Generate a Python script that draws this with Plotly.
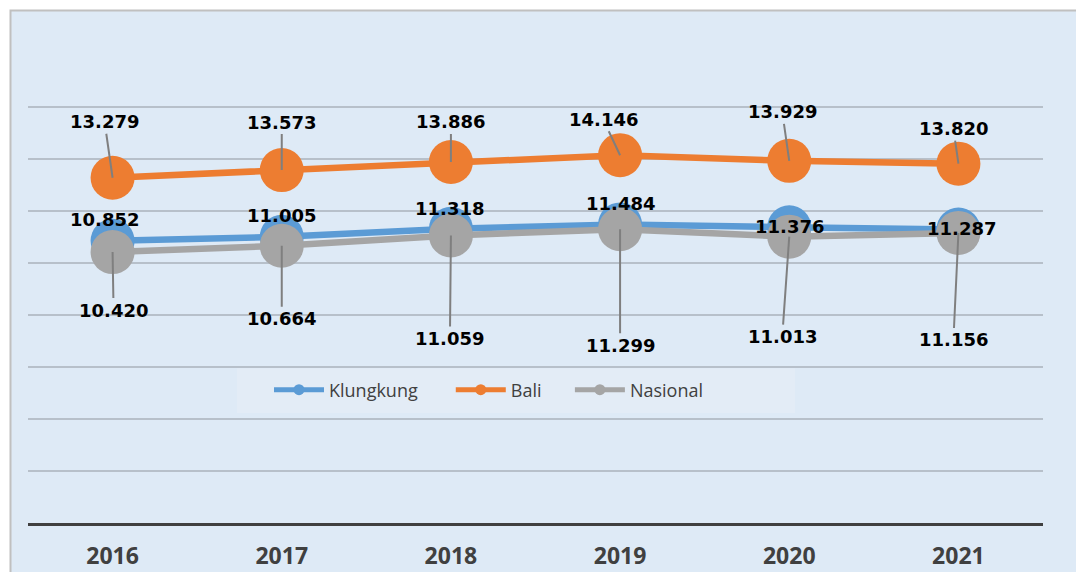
import plotly.graph_objects as go

years = ["2016", "2017", "2018", "2019", "2020", "2021"]
klungkung = [10.852, 11.005, 11.318, 11.484, 11.376, 11.287]
bali = [13.279, 13.573, 13.886, 14.146, 13.929, 13.820]
nasional = [10.420, 10.664, 11.059, 11.299, 11.013, 11.156]

series_names = ["Klungkung", "Bali", "Nasional"]
colors = {"Klungkung": "#5B9BD5", "Bali": "#ED7D31", "Nasional": "#A5A5A5"}

# label offsets (pixels, label centre relative to point)
bali_off = [(-8, -56), (0, -48), (0, -40), (-17, -36), (-7, -49), (-5, -35)]
nas_off = [(1, 58), (0, 73), (-1, 103), (0, 116), (-7, 100), (-5, 107)]
klu_off = [(-8, -21), (0, -21), (-1, -20), (0, -21), (0, -1), (3, -1)]
legend_pad = [6, 5, 0]

xs = list(range(len(years)))

def fmt(v):
    return f"{v:.3f}"

fig = go.Figure()
data = {"Klungkung": klungkung, "Bali": bali, "Nasional": nasional}
for name in series_names:
    fig.add_trace(go.Scatter(
        x=xs, y=data[name], mode="lines+markers", name=name,
        line=dict(color=colors[name], width=6.5),
        marker=dict(size=44, color=colors[name]),
        showlegend=False, cliponaxis=False, hoverinfo="skip"))
for i, name in enumerate(series_names):
    fig.add_trace(go.Scatter(
        x=[None], y=[None], mode="lines+markers",
        name=name + "\u00a0" * legend_pad[i],
        line=dict(color=colors[name], width=5),
        marker=dict(size=11, color=colors[name]), showlegend=True))

lab_font = dict(family="DejaVu Sans", size=18, color="#000000")
ann = []
for i in xs:
    ax, ay = bali_off[i]
    ann.append(dict(x=i, y=bali[i], xref="x", yref="y", text="<b>" + fmt(bali[i]) + "</b>",
                    showarrow=True, ax=ax, ay=ay, arrowhead=0, arrowwidth=2,
                    arrowcolor="#7F7F7F", standoff=0, font=lab_font))
    ax, ay = nas_off[i]
    ann.append(dict(x=i, y=nasional[i], xref="x", yref="y", text="<b>" + fmt(nasional[i]) + "</b>",
                    showarrow=True, ax=ax, ay=ay, arrowhead=0, arrowwidth=2,
                    arrowcolor="#7F7F7F", standoff=0, font=lab_font))
    dx, dy = klu_off[i]
    ann.append(dict(x=i, y=klungkung[i], xref="x", yref="y", text="<b>" + fmt(klungkung[i]) + "</b>",
                    showarrow=False, xshift=dx, yshift=-dy, font=lab_font))

W, H = 1076, 572
L, R, T, B = 28, 33, 81, 49
pw, ph = W - L - R, H - T - B

def px(xp):
    return (xp - L) / pw

def py(yp):
    return (H - B - yp) / ph

fig.update_layout(
    width=W, height=H,
    margin=dict(l=L, r=R, t=T, b=B, pad=0, autoexpand=False),
    paper_bgcolor="#FFFFFF",
    plot_bgcolor="rgba(0,0,0,0)",
    showlegend=True,
    legend=dict(orientation="h", x=px(269), y=py(390),
                xanchor="left", yanchor="middle",
                bgcolor="rgba(0,0,0,0)", borderwidth=0,
                font=dict(family="Open Sans", size=18, color="#404040"),
                itemwidth=50, tracegroupgap=0),
    xaxis=dict(range=[-0.5, 5.5], showgrid=False, tickvals=xs, ticktext=years,
               showline=True, linecolor="#404040", linewidth=3, automargin=False,
               ticks="", tickfont=dict(family="Open Sans", size=23, color="#404040", weight="bold"),
               ticklabelstandoff=10, zeroline=False),
    yaxis=dict(range=[0, 17], tickvals=[0, 2, 4, 6, 8, 10, 12, 14, 16], showgrid=True,
               gridcolor="#B7C0CA", gridwidth=2,
               showticklabels=False, zeroline=False, showline=False, ticks="", automargin=False),
    annotations=ann,
    shapes=[
        dict(type="rect", xref="paper", yref="paper",
             x0=px(10.5), x1=px(1100), y0=py(620), y1=py(10.5),
             fillcolor="#DEEAF6", line=dict(color="#C0C0C0", width=2), layer="below"),
        dict(type="rect", xref="paper", yref="paper",
             x0=px(237), x1=px(795), y0=py(413), y1=py(368.5),
             fillcolor="#E3ECF6", line=dict(width=0), layer="above"),
    ],
)

fig.write_html("out.html", config={"displayModeBar": False},
               post_script="document.body.style.margin='0px';")
